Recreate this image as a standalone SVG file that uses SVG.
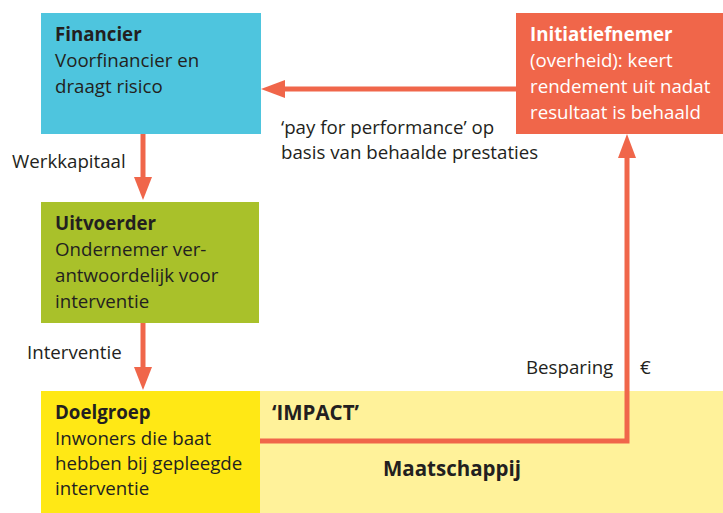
<svg xmlns="http://www.w3.org/2000/svg" width="723" height="513" viewBox="0 0 723 513">
<defs>
<style>
text{font-family:"Open Sans","Noto Sans","Liberation Sans",sans-serif;font-size:18.7px;fill:#231f20}
.b{font-weight:bold}
.w{fill:#ffffff}
.L{font-size:20.5px}
.c{fill:none;stroke:#f0664a;stroke-width:5}
.h{fill:#f0664a}
</style>
</defs>
<rect x="0" y="0" width="723" height="513" fill="#ffffff"/>
<g id="maatschappij">
<rect x="260" y="391" width="463" height="122" fill="#fff29a"/>
<text x="272" y="420" class="b L">‘IMPACT’</text>
<text x="452" y="476" class="b L" text-anchor="middle">Maatschappij</text>
</g>
<g id="financier">
<rect x="41" y="13" width="220" height="121" fill="#4ec5de"/>
<text x="55" y="41" class="b">Financier</text>
<text x="55" y="67">Voorfinancier en</text>
<text x="55" y="93">draagt risico</text>
</g>
<g id="initiatiefnemer">
<rect x="516" y="13" width="207" height="121" fill="#f0664a"/>
<text x="530" y="41" class="b w">Initiatiefnemer</text>
<text x="530" y="67" class="w">(overheid): keert</text>
<text x="530" y="93" class="w">rendement uit nadat</text>
<text x="530" y="119" class="w">resultaat is behaald</text>
</g>
<g id="uitvoerder">
<rect x="41" y="202" width="218" height="121" fill="#a9c12a"/>
<text x="55" y="230" class="b">Uitvoerder</text>
<text x="55" y="256">Ondernemer ver-</text>
<text x="55" y="282">antwoordelijk voor</text>
<text x="55" y="308">interventie</text>
</g>
<g id="doelgroep">
<rect x="41" y="391" width="219" height="122" fill="#ffe815"/>
<text x="55" y="419" class="b">Doelgroep</text>
<text x="55" y="445">Inwoners die baat</text>
<text x="55" y="470">hebben bij gepleegde</text>
<text x="55" y="495">interventie</text>
</g>
<g id="connectors">
<line x1="516" y1="89" x2="280" y2="89" class="c"/>
<polygon points="261,89 285,80 285,98" class="h"/>
<line x1="143" y1="134" x2="143" y2="180" class="c"/>
<polygon points="143,200 134,177 152,177" class="h"/>
<line x1="143" y1="323" x2="143" y2="370" class="c"/>
<polygon points="143,390 134,367 152,367" class="h"/>
<polyline points="260,441 627,441 627,155" class="c"/>
<polygon points="627,134 618,158 636,158" class="h"/>
</g>
<g id="labels">
<text x="12" y="168">Werkkapitaal</text>
<text x="27" y="359">Interventie</text>
<text x="281" y="134">‘pay for performance’ op</text>
<text x="281" y="159">basis van behaalde prestaties</text>
<text x="526" y="374">Besparing</text>
<text x="640" y="374">€</text>
</g>
</svg>
